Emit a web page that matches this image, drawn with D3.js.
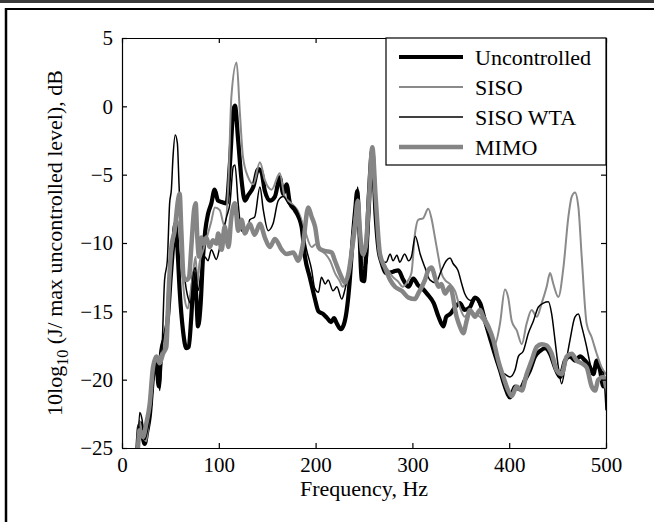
<!DOCTYPE html>
<html>
<head>
<meta charset="utf-8">
<script src="https://cdn.jsdelivr.net/npm/d3@7"></script>
<style>
  html, body { margin: 0; padding: 0; background: #fff; }
  svg { display: block; }
  text { font-family: "Liberation Serif", "Times New Roman", serif; fill: #000; }
</style>
</head>
<body>
<svg id="chart" width="654" height="522"></svg>
<script>
// ---- Data (frequency Hz, level dB) ----
const xTicks = [0, 100, 200, 300, 400, 500];
const yTicks = [5, 0, -5, -10, -15, -20, -25];
const seriesNames = ["Uncontrolled", "SISO", "SISO WTA", "MIMO"];

const uncontrolled = [[16,-25],[17.5,-23.5],[19.3,-23.2],[21,-24],[23.4,-24.7],[26,-23.8],[28.6,-22.7],[32,-19.8],[35.5,-18.6],[37.9,-20.5],[40.6,-17.9],[44,-16.9],[47.5,-15.4],[50.3,-12.5],[52.7,-10.3],[55,-8.6],[57.2,-10.3],[59.6,-13.5],[63,-16.4],[66.5,-17.7],[68.9,-17.6],[71.6,-15.4],[74.4,-12.2],[76.8,-14.0],[78.5,-16.1],[81.3,-14.4],[83.7,-11.0],[86,-9.1],[88.8,-7.9],[92.3,-7.1],[95.7,-6.1],[99.2,-6.9],[103,-7.0],[108,-7.1],[111.5,-4.2],[115,-0.3],[116.7,0.05],[120,-2.5],[123.5,-5.4],[127,-6.9],[130.4,-6.5],[135.6,-5.9],[140.8,-4.6],[144,-4.8],[147.6,-6.2],[152.8,-6.9],[158,-6.6],[163,-5.2],[166.6,-6.4],[170,-5.7],[173.5,-7.1],[178.6,-7.6],[185.5,-8.8],[189,-11.0],[194,-12.5],[199,-14.0],[203,-15.0],[208,-15.2],[212,-15.5],[216,-15.8],[219,-15.5],[222,-15.9],[226,-16.3],[229,-16.0],[232,-15.0],[235,-13.0],[238,-10.0],[241,-7.5],[243,-6.2],[245.5,-9.5],[247.5,-12.7],[250,-12.8],[252,-11.0],[255,-6.5],[258.6,-3.2],[262,-8.0],[265,-10.5],[268,-11.4],[273,-12.2],[280,-12.1],[285.5,-12.0],[290.6,-12.7],[296,-13.2],[301,-12.6],[306,-13.1],[310,-13.3],[315,-13.7],[322,-14.4],[327,-15.4],[332,-16.1],[335,-15.4],[339,-15.2],[344,-14.7],[349,-14.4],[354,-14.9],[359.5,-14.7],[364.6,-14.0],[370,-14.4],[375,-15.7],[380,-16.9],[385,-18.1],[390.5,-19.3],[395.6,-20.5],[401,-21.3],[406,-20.5],[411,-20.7],[416.4,-20.0],[421.5,-19.3],[426.7,-18.3],[431.9,-17.9],[437,-17.7],[442.2,-18.1],[447.3,-19.1],[452.5,-19.8],[457.7,-18.6],[462.8,-18.3],[468,-18.6],[473.2,-18.3],[478.3,-18.6],[483.5,-19.1],[487,-19.6],[490.4,-18.6],[493.8,-19.3],[497.3,-20.5],[500,-20.3]];

const siso = [[16,-25],[18,-23],[21,-24],[25,-24.5],[29,-22],[33,-19],[37,-18.5],[41,-18],[45,-16.5],[48,-13],[51,-11],[54,-9.5],[57,-8.3],[59,-9],[62,-12],[65,-14.2],[68,-14.8],[70,-14],[73,-12.5],[76,-11],[78,-13],[80,-11.5],[84,-10.5],[88,-9.5],[92,-8.5],[96,-7.4],[101,-7.6],[106,-8.8],[110,-5.4],[113,0.7],[118.4,3.2],[121.8,-0.5],[125,-3.7],[130.4,-5.2],[135.6,-5.7],[142.5,-4.1],[147.6,-5.4],[154.5,-6.1],[163,-4.9],[168,-6.6],[175,-7.1],[182,-7.7],[189,-9.1],[196,-10.3],[200,-10.1],[205,-10.5],[210,-10.8],[215,-11.3],[220,-12.2],[225,-12.8],[228,-13.2],[231,-12.9],[235,-11.5],[238,-9.5],[241,-7.8],[243.5,-6.8],[246,-9.5],[249,-11],[252,-10.5],[255,-7],[258.6,-3.5],[262,-7],[266,-10.5],[270,-11.5],[275,-12],[280,-12.5],[285,-12.8],[290,-13.2],[295,-12.8],[299,-12.2],[302.7,-9.3],[306,-8.3],[311,-8.2],[316.4,-7.5],[320,-8.3],[323.3,-9.6],[326.8,-11.0],[330,-12.2],[333.6,-12.7],[338.8,-13.0],[344,-13.5],[349,-14.7],[354,-15.4],[359.5,-14.9],[364.6,-15.2],[369.8,-15.4],[375,-15.9],[380,-16.6],[385.3,-17.4],[390.5,-15.9],[395.6,-13.4],[399,-14.0],[402.6,-15.7],[407.8,-16.4],[413,-17.4],[418,-15.9],[423.2,-14.9],[428.4,-15.4],[433.6,-14.4],[438.7,-13.2],[442.2,-12.2],[445.6,-13.0],[450.8,-13.95],[456,-11.8],[461.1,-8.1],[464.6,-6.6],[468,-6.3],[471.5,-7.4],[474.9,-11.0],[480,-15.9],[485.2,-16.9],[490.4,-18.1],[495.5,-19.1],[500,-19.6]];

const sisoWta = [[16.5,-25],[18.3,-22.4],[20.7,-22.9],[23.4,-24.4],[26.9,-23.5],[30.3,-22.0],[33,-19.6],[36.5,-18.6],[39,-20.8],[41.3,-17.9],[44,-12.7],[46.8,-11.3],[49.2,-7.1],[51,-6.1],[52.7,-3.7],[55,-2.1],[57.2,-2.7],[58.9,-5.7],[61.3,-9.6],[64.7,-12.5],[68.2,-14.0],[70.9,-14.4],[73.3,-12.5],[75.7,-11.8],[78.5,-13.5],[82,-12.0],[85.4,-11.0],[88.8,-11.3],[92.3,-10.5],[97.4,-11.2],[101,-10.3],[103,-9.6],[108,-8.1],[111.5,-7.1],[115,-4.4],[116.7,-4.3],[120,-7.1],[123.5,-9.1],[128.7,-9.3],[132,-8.3],[137,-8.1],[142.5,-5.9],[146,-7.6],[151,-9.1],[156,-8.6],[161.4,-6.9],[166.6,-6.6],[171.7,-7.1],[178.6,-7.4],[185.5,-8.6],[190.7,-10.5],[196,-12.0],[199,-13.3],[203,-13.6],[206,-12.5],[210,-13.0],[213,-12.7],[218,-13.5],[222,-13.2],[227,-14.1],[230,-13.5],[233,-12.5],[237,-10.8],[240.7,-8.3],[243.5,-5.9],[246,-9.1],[249.3,-11.8],[252.8,-11.5],[256,-7.9],[258.6,-4.9],[261.4,-8.0],[265,-10.3],[268,-11.4],[273,-11.4],[277,-10.8],[280,-11.3],[284,-10.9],[287,-11.4],[292,-10.8],[296,-11.3],[299,-11.0],[303,-9.5],[308,-10.8],[313,-11.8],[318,-12.7],[324,-12.9],[330,-12.0],[335,-11.3],[339,-11.1],[342,-11.5],[347,-12.0],[351,-13.0],[354,-13.7],[360,-14.2],[365,-14.0],[370,-14.7],[375,-15.4],[380,-16.6],[385,-18.1],[390,-19.3],[395.7,-19.6],[400.9,-19.8],[406,-19.3],[409.5,-18.3],[414.6,-17.9],[419.8,-16.6],[425,-15.7],[430,-14.7],[435.3,-14.4],[440.5,-14.3],[443.9,-15.2],[447.3,-17.1],[450.8,-19.1],[454.2,-20.3],[457.7,-19.1],[462.8,-17.1],[468,-15.4],[471.5,-15.2],[474.9,-16.1],[480,-17.6],[483.5,-18.8],[487,-19.6],[490.4,-19.1],[493.8,-19.3],[497.3,-19.5],[500,-22.2]];

const mimo = [[16.5,-25],[18.3,-23.7],[21.7,-24.2],[25.1,-23.2],[28.6,-21.8],[32,-19.1],[35.5,-18.3],[38.9,-18.8],[42.4,-18.1],[45.8,-17.6],[48.2,-13.5],[51,-10.3],[54.4,-9.1],[57.8,-6.9],[59.6,-6.4],[61.3,-9.1],[63.7,-12.5],[66.5,-12.7],[69.2,-12.5],[71.6,-10.3],[74.4,-7.6],[76.1,-7.1],[77.8,-9.6],[79.5,-11.0],[82,-9.6],[84.7,-10.05],[87.1,-9.6],[90.5,-10.3],[94,-9.8],[97.4,-10.05],[99.4,-9.3],[103,-10.5],[106,-8.8],[110,-10.3],[113,-8.1],[116.7,-7.1],[120,-9.1],[123.5,-8.3],[127,-9.3],[132,-8.6],[137,-9.4],[142.5,-8.6],[147.6,-9.6],[152.8,-10.3],[158,-9.7],[165,-10.5],[170,-10.8],[177,-10.7],[182,-11.3],[187,-10.05],[192.4,-7.4],[196,-8.1],[199.4,-8.8],[203,-10.3],[206,-10.5],[211,-10.6],[216.6,-10.7],[220,-11.3],[225,-12.2],[230.4,-12.9],[234,-12.2],[237,-10.8],[240.7,-8.8],[243.5,-6.9],[246,-9.3],[248.6,-10.8],[251.7,-10.3],[255,-6.9],[258.6,-3.0],[262,-6.6],[266.5,-10.8],[271.7,-11.8],[277,-12.7],[282,-13.2],[289,-13.5],[296,-14.0],[302.7,-14.1],[306,-13.7],[313,-12.7],[316.4,-12.0],[320,-11.8],[323.3,-12.5],[327,-13.2],[330,-13.0],[333.6,-13.7],[338.8,-13.2],[345.7,-15.4],[349,-16.1],[352.6,-16.6],[356,-15.7],[359.5,-14.9],[364.6,-15.4],[369.8,-14.9],[373.2,-15.4],[378.4,-16.1],[383.6,-17.1],[388.7,-18.6],[394,-19.8],[399,-20.8],[402.6,-21.2],[407.8,-20.5],[413,-20.8],[418,-19.6],[423.2,-18.6],[428.4,-17.6],[433.6,-17.4],[438.7,-17.5],[443.9,-18.1],[449,-19.3],[454.2,-19.6],[459.4,-18.3],[464.6,-18.1],[469.7,-18.6],[474.9,-18.8],[480,-19.1],[485.2,-20.5],[488.7,-20.8],[492,-20.0],[497.3,-19.8],[500,-20.5]];

// ---- Layout ----
const svg = d3.select("#chart");
const L = 122, R = 606, T = 38, B = 448;
const x = d3.scaleLinear().domain([0, 500]).range([L, R]);
const y = d3.scaleLinear().domain([-25, 5]).range([B, T]);

// figure frame (cropped page borders)
svg.append("rect").attr("x", 0).attr("y", 0).attr("width", 654).attr("height", 3).attr("fill", "#3a3a3a");
svg.append("line").attr("x1", 5).attr("x2", 654).attr("y1", 9).attr("y2", 9).attr("stroke", "#000").attr("stroke-width", 2);
svg.append("line").attr("x1", 6).attr("x2", 6).attr("y1", 8).attr("y2", 522).attr("stroke", "#000").attr("stroke-width", 2.5);

// clip
svg.append("clipPath").attr("id", "plotclip")
  .append("rect").attr("x", L).attr("y", T).attr("width", R - L).attr("height", B - T);

const styles = [
  { data: uncontrolled, color: "#000000", width: 4.2 },
  { data: siso, color: "#8a8a8a", width: 2 },
  { data: sisoWta, color: "#000000", width: 1.5 },
  { data: mimo, color: "#858585", width: 4.5 }
];

const line = d3.line().x(d => x(d[0])).y(d => y(d[1])).curve(d3.curveMonotoneX);
const g = svg.append("g").attr("clip-path", "url(#plotclip)");
styles.forEach(s => {
  g.append("path").attr("d", line(s.data)).attr("fill", "none")
    .attr("stroke", s.color).attr("stroke-width", s.width)
    .attr("stroke-linejoin", "round").attr("stroke-linecap", "round");
});

// axes (MATLAB-style box with inward ticks)
const fmt = d => d < 0 ? "\u2212" + Math.abs(d) : String(d);
const tl = 5;
const axB = svg.append("g").attr("transform", `translate(0,${B})`)
  .call(d3.axisBottom(x).tickValues(xTicks).tickSizeInner(-tl).tickSizeOuter(0).tickPadding(12).tickFormat(fmt));
const axT = svg.append("g").attr("transform", `translate(0,${T})`)
  .call(d3.axisTop(x).tickValues(xTicks).tickSizeInner(-tl).tickSizeOuter(0).tickFormat(""));
const axL = svg.append("g").attr("transform", `translate(${L},0)`)
  .call(d3.axisLeft(y).tickValues(yTicks).tickSizeInner(-tl).tickSizeOuter(0).tickPadding(12).tickFormat(fmt));
const axR = svg.append("g").attr("transform", `translate(${R},0)`)
  .call(d3.axisRight(y).tickValues(yTicks).tickSizeInner(-tl).tickSizeOuter(0).tickFormat(""));
[axB, axT, axL, axR].forEach(a => {
  a.selectAll("path.domain").attr("stroke", "#000").attr("stroke-width", 1.2);
  a.selectAll(".tick line").attr("stroke", "#000").attr("stroke-width", 1.2);
  a.selectAll("text").attr("font-family", "Liberation Serif").attr("font-size", 21).attr("fill", "#000");
});
axB.selectAll("text").attr("dy", "0.71em").attr("y", 9);
axL.selectAll("text").attr("x", -9);

// axis labels
svg.append("text").attr("x", 364).attr("y", 496).attr("text-anchor", "middle")
  .attr("font-size", 22).text("Frequency, Hz");
const yl = svg.append("text").attr("transform", "translate(62,243) rotate(-90)")
  .attr("text-anchor", "middle").attr("font-size", 22);
yl.append("tspan").text("10log");
yl.append("tspan").attr("font-size", 16).attr("dy", 6).text("10");
yl.append("tspan").attr("dy", -6).text(" (J/ max uncontrolled level), dB");

// legend
const lg = svg.append("g");
lg.append("rect").attr("x", 386).attr("y", T).attr("width", R - 386).attr("height", 127)
  .attr("fill", "#fff").attr("stroke", "#000").attr("stroke-width", 1.2);
styles.forEach((s, i) => {
  const cy = 57 + i * 30;
  lg.append("line").attr("x1", 399).attr("x2", 463).attr("y1", cy).attr("y2", cy)
    .attr("stroke", s.color).attr("stroke-width", s.width);
  lg.append("text").attr("x", 475).attr("y", cy + 7.5).attr("font-size", 22).text(seriesNames[i]);
});
</script>
</body>
</html>
